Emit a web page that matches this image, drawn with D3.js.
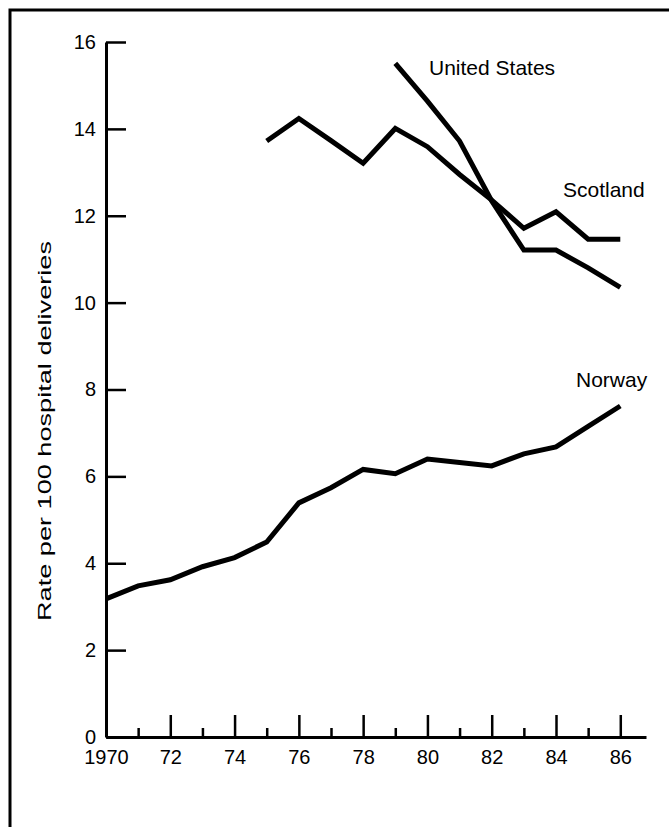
<!DOCTYPE html>
<html>
<head>
<meta charset="utf-8">
<script src="https://cdn.jsdelivr.net/npm/d3@7"></script>
<style>
  body { margin: 0; background: #fff; }
  svg text { font-family: "Liberation Sans", Arial, Helvetica, sans-serif; fill: #000; }
  .axis path, .axis line { stroke: #000; }
</style>
</head>
<body>
<svg id="graph" width="669" height="827"></svg>
<script>
// data (rate per 100 hospital deliveries)
var years       = [1970, 1971, 1972, 1973, 1974, 1975, 1976, 1977, 1978, 1979, 1980, 1981, 1982, 1983, 1984, 1985, 1986];
var norway      = [3.18, 3.48, 3.62, 3.92, 4.13, 4.49, 5.39, 5.74, 6.16, 6.06, 6.40, 6.32, 6.24, 6.52, 6.68, 7.15, 7.62];
var scotlandYrs = [1975, 1976, 1977, 1978, 1979, 1980, 1981, 1982, 1983, 1984, 1985, 1986];
var scotland    = [13.72, 14.24, 13.73, 13.21, 14.01, 13.59, 12.95, 12.36, 11.71, 12.09, 11.46, 11.46];
var usYrs       = [1979, 1980, 1981, 1982, 1983, 1984, 1985, 1986];
var us          = [15.51, 14.64, 13.72, 12.34, 11.21, 11.21, 10.80, 10.35];

var yTicks      = [0, 2, 4, 6, 8, 10, 12, 14, 16];
var xMajor      = [1970, 1972, 1974, 1976, 1978, 1980, 1982, 1984, 1986];
var xMinor      = [1971, 1973, 1975, 1977, 1979, 1981, 1983, 1985];
var xTickLabels = ["1970", "72", "74", "76", "78", "80", "82", "84", "86"];

var seriesNames = ["United States", "Scotland", "Norway"];

var svg = d3.select("#graph");

// frame round the figure (runs off the right and bottom edge like the scan)
svg.append("rect")
   .attr("x", 10).attr("y", 10)
   .attr("width", 700).attr("height", 860)
   .attr("fill", "none")
   .attr("stroke", "#000")
   .attr("stroke-width", 3);

// scales -- x runs a bit past 1986 so the axis line sticks out
var xscale = d3.scaleLinear().domain([1970, 1986.8]).range([106, 646]);
var yscale = d3.scaleLinear().domain([0, 16]).range([737, 42]);

// y axis, ticks pointing inwards
var yAxis = svg.append("g")
   .attr("class", "axis")
   .attr("transform", "translate(" + xscale(1970) + ",0)")
   .call(d3.axisLeft(yscale).tickValues(yTicks).tickSize(-20).tickSizeOuter(0).tickPadding(10)
           .tickFormat(function(d) { return d; }));
yAxis.select(".domain").attr("stroke-width", 3);
yAxis.selectAll(".tick line").attr("stroke-width", 2.5);
yAxis.selectAll(".tick text").style("font-size", "20px");

// x axis: long ticks on even years, short on odd ones
var xAxis = svg.append("g")
   .attr("class", "axis")
   .attr("transform", "translate(0," + yscale(0) + ")")
   .call(d3.axisBottom(xscale).tickValues(xMajor).tickSize(-22).tickSizeOuter(0).tickPadding(13)
           .tickFormat(function(d, i) { return xTickLabels[i]; }));
xAxis.select(".domain").attr("stroke-width", 3);
xAxis.selectAll(".tick line").attr("stroke-width", 2.5);
xAxis.selectAll(".tick text").style("font-size", "20px");

var xMinorAxis = svg.append("g")
   .attr("class", "axis")
   .attr("transform", "translate(0," + yscale(0) + ")")
   .call(d3.axisBottom(xscale).tickValues(xMinor).tickSize(-9).tickSizeOuter(0).tickFormat(""));
xMinorAxis.select(".domain").remove();
xMinorAxis.selectAll(".tick line").attr("stroke-width", 2.5);

// y axis title
svg.append("text")
   .attr("text-anchor", "middle")
   .attr("transform", "translate(51,431)rotate(-90)")
   .style("font-size", "19px")
   .attr("textLength", 380).attr("lengthAdjust", "spacingAndGlyphs")
   .text("Rate per 100 hospital deliveries");

// the three series
var line = d3.line()
   .x(function(d) { return xscale(d[0]); })
   .y(function(d) { return yscale(d[1]); });

function pairs(xs, vs) { return xs.map(function(x, i) { return [x, vs[i]]; }); }

[pairs(usYrs, us), pairs(scotlandYrs, scotland), pairs(years, norway)].forEach(function(s) {
  svg.append("path")
     .datum(s)
     .attr("d", line)
     .attr("fill", "none")
     .attr("stroke", "#000")
     .attr("stroke-width", 5)
     .attr("stroke-linejoin", "miter");
});

// series labels
var labelPos = [[429, 75], [563, 197], [576, 387]];
seriesNames.forEach(function(n, i) {
  svg.append("text")
     .attr("x", labelPos[i][0])
     .attr("y", labelPos[i][1])
     .style("font-size", "21px")
     .text(n);
});
</script>
</body>
</html>
